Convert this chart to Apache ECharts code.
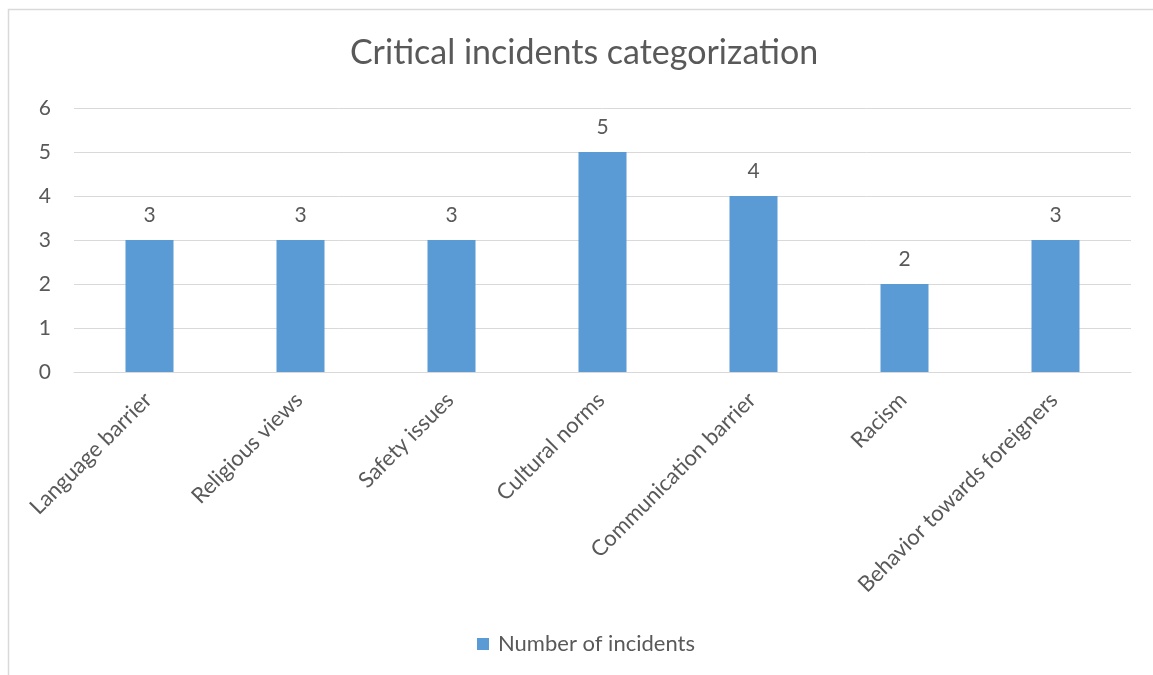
<!DOCTYPE html>
<html>
<head>
<meta charset="utf-8">
<script src="https://cdn.jsdelivr.net/npm/echarts@6/dist/echarts.min.js"></script>
<style>
  html, body { margin: 0; padding: 0; background: #fff; }
  #chart { width: 1153px; height: 675px; }
</style>
</head>
<body>
<div id="chart"></div>
<script>
const categories = ['Language barrier', 'Religious views', 'Safety issues', 'Cultural norms',
  'Communication barrier', 'Racism', 'Behavior towards foreigners']
const incidents = [3, 3, 3, 5, 4, 2, 3]
const seriesName = 'Number of incidents'

const font = 'Lato, "Open Sans", sans-serif'
const textColor = '#595959'

const chart = echarts.init(document.getElementById('chart'))
chart.setOption({
  animation: false,
  color: ['#5b9bd5'],
  title: {
    text: 'Critical incidents categorization',
    left: 345,
    top: 31,
    textStyle: { color: textColor, fontFamily: font, fontSize: 34, fontWeight: 'normal' }
  },
  legend: {
    data: [seriesName],
    bottom: 15,
    left: 472,
    itemWidth: 12,
    itemHeight: 12,
    icon: 'rect',
    textStyle: { color: textColor, fontFamily: font, fontSize: 22, padding: [0, 0, 0, 4] }
  },
  grid: {
    left: 74,
    right: 22,
    top: 108,
    bottom: 303
  },
  xAxis: {
    type: 'category',
    data: categories,
    axisLine: { lineStyle: { color: '#d9d9d9', width: 1 } },
    axisTick: { show: false },
    axisLabel: {
      rotate: 45,
      interval: 0,
      margin: 23,
      padding: [0, 2, 0, 0],
      color: textColor,
      fontFamily: font,
      fontSize: 22
    }
  },
  yAxis: {
    type: 'value',
    min: 0,
    max: 6,
    interval: 1,
    axisLine: { show: false },
    axisTick: { show: false },
    splitLine: { lineStyle: { color: '#d9d9d9', width: 1 } },
    axisLabel: { color: textColor, fontFamily: font, fontSize: 21, margin: 23 }
  },
  series: [{
    name: seriesName,
    type: 'bar',
    data: incidents,
    barWidth: 48,
    label: {
      show: true,
      position: 'top',
      distance: 14,
      color: textColor,
      fontFamily: font,
      fontSize: 21
    }
  }],
  graphic: [{
    type: 'rect',
    shape: { x: 8.5, y: 9.5, width: 1200, height: 700 },
    style: { fill: 'none', stroke: '#d9d9d9', lineWidth: 1.5 },
    silent: true
  }]
})
</script>
</body>
</html>
